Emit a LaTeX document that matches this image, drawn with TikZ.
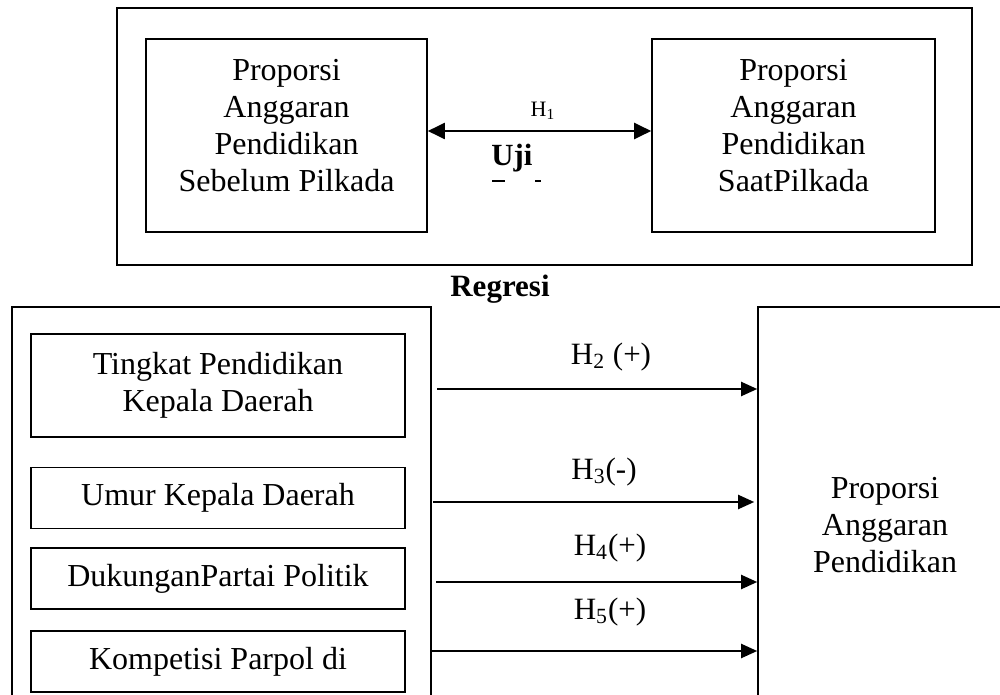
\documentclass[tikz,border=0pt]{standalone}
\usepackage{fontspec}
\setmainfont{Liberation Serif}
\usetikzlibrary{arrows.meta,positioning}

\begin{document}
\begin{tikzpicture}[
    x=0.5pt, y=-0.5pt,
    frame/.style={rectangle, draw, line width=0.8pt, inner sep=0pt},
    varbox/.style={frame, minimum width=187pt, minimum height=30.5pt, font=\fontsize{16}{18.5}\selectfont, align=center},
    txt/.style={font=\fontsize{16}{18.5}\selectfont, align=center},
    hyp/.style={font=\fontsize{15.5}{17}\selectfont, inner sep=0pt},
    link/.style={-{Triangle[length=8pt,width=7pt]}, line width=1pt},
    dlink/.style={{Triangle[length=8.5pt,width=8pt]}-{Triangle[length=8.5pt,width=8pt]}, line width=1pt}
]
    \useasboundingbox (0,0) rectangle (1000,695);
    \clip (0,0) rectangle (1000,695);

    % Uji beda
    \node[frame, minimum width=427.5pt, minimum height=128.5pt] (ujibox) at (544.5,136.5) {};
    \node[frame, minimum width=140.5pt, minimum height=96.5pt] (prebox) at (286.5,135.5) {};
    \node[frame, minimum width=141.5pt, minimum height=96.5pt] (saatbox) at (793.5,135.5) {};
    \node[txt] (pretext) at ([yshift=4.75pt]prebox.center) {Proporsi\\Anggaran\\Pendidikan\\Sebelum Pilkada};
    \node[txt] (saattext) at ([yshift=4.75pt]saatbox.center) {Proporsi\\Anggaran\\Pendidikan\\SaatPilkada};

    \draw[dlink] ([yshift=2.25pt]prebox.east) -- ([yshift=2.25pt]saatbox.west);
    \node[font=\fontsize{11}{12}\selectfont] (h1) at (543,111) {H\textsubscript{1}};
    \node[font=\bfseries\fontsize{15.4}{17}\selectfont] (uji) at (512,158) {Uji};
    \node[inner sep=0pt] (ujicut) at (516.5,181) {\rule{6.5pt}{0.6pt}\hspace{15pt}\rule{3pt}{0.6pt}};

    \node[font=\bfseries\fontsize{15.5}{17}\selectfont] (regresi) at (500,289) {Regresi};

    % Regresi
    \node[frame, minimum width=209.5pt, minimum height=210pt] (regbox) at (221.5,517) {};
    \node[varbox, minimum height=51.5pt] (tingkat) at (218,385.5) {Tingkat Pendidikan\\Kepala Daerah};
    \node[varbox, below=14.5pt of tingkat] (umur) {Umur Kepala Daerah};
    \node[varbox, below=9pt of umur] (dukungan) {DukunganPartai Politik};
    \node[varbox, below=10pt of dukungan] (kompetisi) {Kompetisi Parpol di};

    \node[frame, txt, minimum width=127pt, minimum height=218pt] (outcome) at (885,525) {Proporsi\\Anggaran\\Pendidikan};

    \coordinate (h2from) at (437,389);
    \coordinate (h3from) at (433,502);
    \coordinate (h4from) at (436,582);
    \coordinate (h5from) at (432,651);

    \draw[link] (h2from) -- (h2from -| outcome.west);
    \draw[link] (h3from) -- ([xshift=-1.5pt]h3from -| outcome.west);
    \draw[link] (h4from) -- (h4from -| outcome.west);
    \draw[link] (h5from) -- (h5from -| outcome.west);

    \node[hyp] (h2) at (611,357) {H\textsubscript{2} (+)};
    \node[hyp] (h3) at (604,472) {H\textsubscript{3}(-)};
    \node[hyp] (h4) at (610,548) {H\textsubscript{4}(+)};
    \node[hyp] (h5) at (610,612) {H\textsubscript{5}(+)};
\end{tikzpicture}
\end{document}
